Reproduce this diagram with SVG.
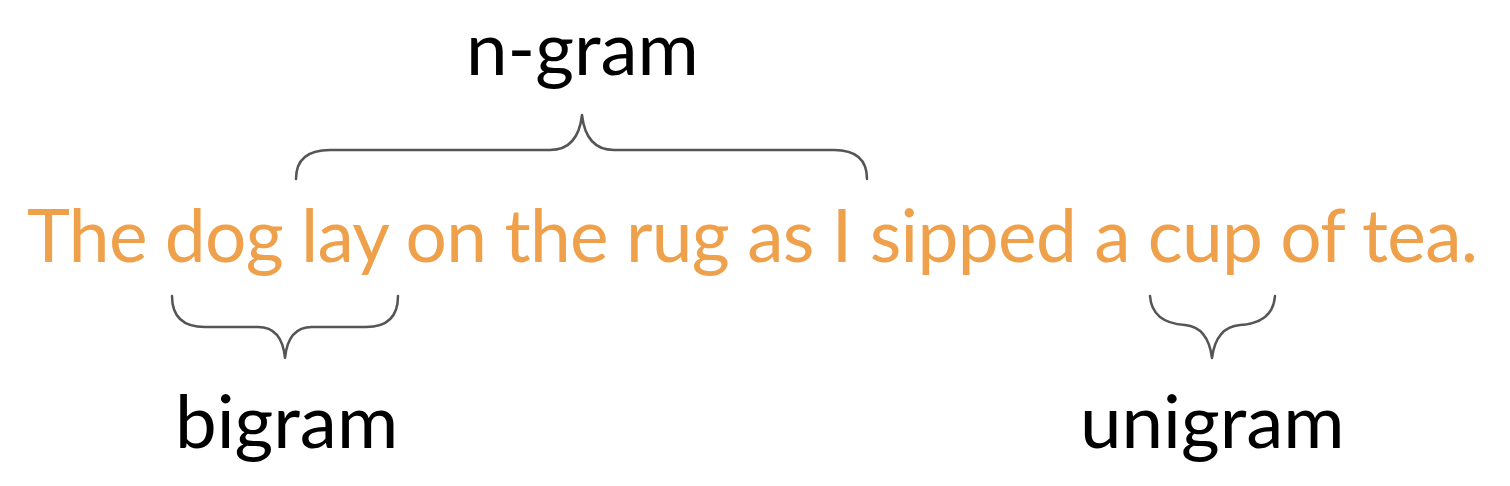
<svg xmlns="http://www.w3.org/2000/svg" width="1510" height="486" viewBox="0 0 1510 486">
<style>
.lbl{font-family:Lato,"Liberation Sans",sans-serif;font-size:74.5px;fill:#000}
.sent{font-family:Lato,"Liberation Sans",sans-serif;font-size:73px;fill:#EFA04A}
.brace{fill:none;stroke:#555;stroke-width:2.5;stroke-linecap:round;stroke-linejoin:round}
</style>
<rect width="1510" height="486" fill="#fff"/>
<g id="sentence"><text class="sent" x="27" y="262" textLength="1451" lengthAdjust="spacing">The dog lay on the rug as I sipped a cup of tea.</text></g>
<g id="ngram"><text class="lbl" x="466" y="75">n-gram</text></g>
<g id="bigram"><text class="lbl" x="175" y="448">bigram</text></g>
<g id="unigram"><text class="lbl" x="1080" y="448">unigram</text></g>
<g id="connectors">
<path class="brace" d="M296,179 Q296,150 330,150 L550,150 Q578,150 582,115 Q586,150 614,150 L834,150 Q867,150 867,179"/>
<path class="brace" d="M172,296 Q172,327 205,327 L258,327 Q282,327 285,358 Q288,327 312,327 L366,327 Q398,327 398,296"/>
<path class="brace" d="M1150,296 Q1152,323 1185,325 Q1208,327 1212,358 Q1216,327 1240,325 Q1273,323 1275,296"/>
</g>
</svg>
